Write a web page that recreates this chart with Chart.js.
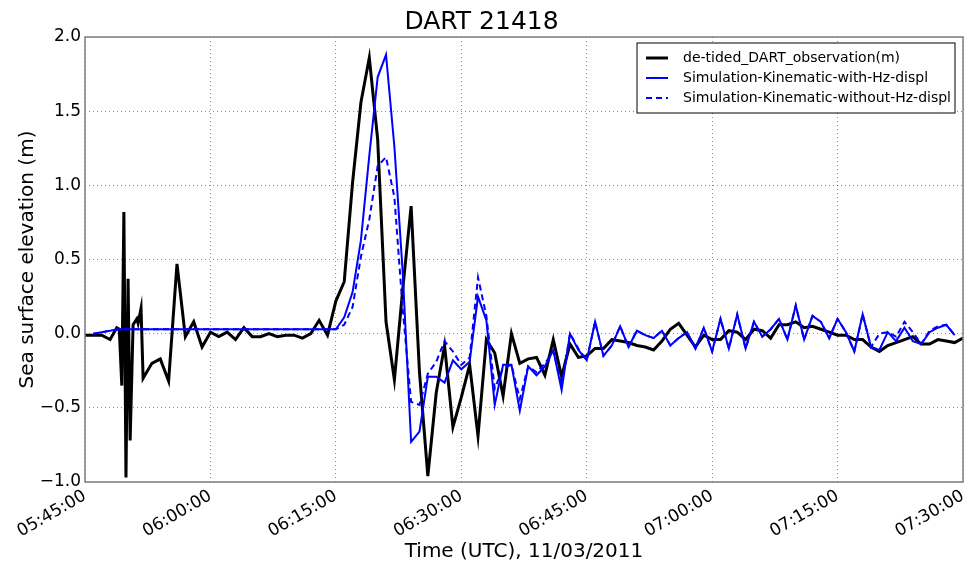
<!DOCTYPE html>
<html>
<head>
<meta charset="utf-8">
<script src="https://cdn.jsdelivr.net/npm/chart.js@4"></script>
<style>
  html, body { margin: 0; padding: 0; background: #fff; }
  #wrap { width: 965px; height: 565px; }
</style>
</head>
<body>
<div id="wrap"><canvas id="dart-chart" width="965" height="565"></canvas></div>
<script>
// x values are minutes after 05:45:00
const xTickLabels = ['05:45:00', '06:00:00', '06:15:00', '06:30:00', '06:45:00', '07:00:00', '07:15:00', '07:30:00'];
const yTicks = [-1.0, -0.5, 0.0, 0.5, 1.0, 1.5, 2.0];

// de-tided observation (15 s samples during the early burst, 1 min afterwards)
const obsTime = [0, 1, 2, 3, 3.8, 4.1, 4.4, 4.65, 4.9, 5.15, 5.4, 5.75, 6.2, 6.35, 6.7, 6.95,
  8, 9, 10, 11, 12, 13, 14, 15, 16, 17, 18, 19, 20, 21, 22, 23, 24, 25, 26, 27, 28, 29,
  30, 31, 32, 33, 34, 35, 36, 37, 38, 39, 40, 41, 42, 43, 44, 45, 46, 47, 48, 49,
  50, 51, 52, 53, 54, 55, 56, 57, 58, 59, 60, 61, 62, 63, 64, 65, 66, 67, 68, 69,
  70, 71, 72, 73, 74, 75, 76, 77, 78, 79, 80, 81, 82, 83, 84, 85, 86, 87, 88, 89,
  90, 91, 92, 93, 94, 95, 96, 97, 98, 99, 100, 101, 102, 103, 104, 105];
const obsValue = [-0.01, -0.01, -0.01, -0.04, 0.04, 0.03, -0.35, 0.82, -0.97, 0.37, -0.72, 0.06, 0.10, 0.07, 0.17, -0.30,
  -0.20, -0.17, -0.32, 0.47, -0.02, 0.08, -0.09, 0.01, -0.02, 0.01, -0.04, 0.04, -0.02, -0.02, 0.00, -0.02, -0.01, -0.01, -0.03, 0.00, 0.09, -0.01,
  0.22, 0.35, 1.02, 1.56, 1.86, 1.31, 0.08, -0.31, 0.30, 0.86, -0.26, -0.96, -0.40, -0.08, -0.63, -0.43, -0.21, -0.69, -0.04, -0.13,
  -0.42, 0.00, -0.20, -0.17, -0.16, -0.28, -0.04, -0.29, -0.07, -0.16, -0.15, -0.10, -0.10, -0.04, -0.05, -0.06, -0.08, -0.09, -0.11, -0.05,
  0.03, 0.07, -0.01, -0.09, -0.01, -0.04, -0.04, 0.02, 0.01, -0.04, 0.03, 0.02, -0.03, 0.06, 0.06, 0.08, 0.04, 0.05, 0.03, 0.01,
  -0.01, -0.01, -0.04, -0.04, -0.09, -0.12, -0.08, -0.06, -0.04, -0.02, -0.07, -0.07, -0.04, -0.05, -0.06, -0.03];

// simulations, one value per minute starting at 05:46:00
const simStart = 1;
const simWithHz = [
  0.00, 0.01, 0.02, 0.03, 0.03, 0.03, 0.03, 0.03, 0.03, 0.03,
  0.03, 0.03, 0.03, 0.03, 0.03, 0.03, 0.03, 0.03, 0.03, 0.03,
  0.03, 0.03, 0.03, 0.03, 0.03, 0.03, 0.03, 0.03, 0.03, 0.03,
  0.11, 0.28, 0.63, 1.20, 1.73, 1.88, 1.26, 0.41, -0.73, -0.66,
  -0.29, -0.29, -0.33, -0.18, -0.24, -0.19, 0.25, 0.09, -0.48, -0.21,
  -0.21, -0.52, -0.22, -0.28, -0.22, -0.11, -0.38, 0.00, -0.11, -0.18,
  0.08, -0.15, -0.08, 0.05, -0.09, 0.02, -0.01, -0.03, 0.02, -0.08,
  -0.03, 0.01, -0.10, 0.04, -0.12, 0.10, -0.10, 0.13, -0.10, 0.08,
  -0.02, 0.03, 0.10, -0.04, 0.19, -0.04, 0.12, 0.08, -0.03, 0.10,
  0.01, -0.12, 0.13, -0.09, -0.11, 0.01, -0.05, 0.04, -0.05, -0.07,
  0.01, 0.04, 0.06, -0.01];
const simWithoutHz = [
  0.00, 0.01, 0.02, 0.03, 0.03, 0.03, 0.03, 0.03, 0.03, 0.03,
  0.03, 0.03, 0.03, 0.03, 0.03, 0.03, 0.03, 0.03, 0.03, 0.03,
  0.03, 0.03, 0.03, 0.03, 0.03, 0.03, 0.03, 0.03, 0.03, 0.03,
  0.06, 0.18, 0.52, 0.77, 1.13, 1.19, 0.92, 0.16, -0.46, -0.48,
  -0.27, -0.19, -0.05, -0.12, -0.21, -0.16, 0.38, 0.12, -0.37, -0.23,
  -0.21, -0.44, -0.22, -0.26, -0.20, -0.12, -0.34, 0.00, -0.10, -0.18,
  0.08, -0.15, -0.08, 0.05, -0.09, 0.02, -0.01, -0.03, 0.02, -0.08,
  -0.03, 0.01, -0.10, 0.04, -0.12, 0.10, -0.10, 0.13, -0.10, 0.08,
  -0.02, 0.03, 0.10, -0.04, 0.19, -0.04, 0.12, 0.08, -0.03, 0.10,
  0.01, -0.12, 0.13, -0.09, 0.00, 0.01, -0.02, 0.08, 0.01, -0.07,
  0.02, 0.05, 0.06, -0.01];

const FONT = "'DejaVu Sans', sans-serif";

const obsPoints = obsTime.map((t, i) => ({ x: t, y: obsValue[i] }));
const withHzPoints = simWithHz.map((v, i) => ({ x: simStart + i, y: v }));
const withoutHzPoints = simWithoutHz.map((v, i) => ({ x: simStart + i, y: v }));

// matplotlib-like frame and legend box
const framePlugin = {
    id: 'frame',
    afterDraw(chart) {
        const ctx = chart.ctx;
        const a = chart.chartArea;
        ctx.save();
        ctx.strokeStyle = '#7f7f7f';
        ctx.lineWidth = 1.5;
        ctx.strokeRect(a.left, a.top, a.right - a.left, a.bottom - a.top);

        // legend
        ctx.font = '14px ' + FONT;
        const sets = chart.data.datasets;
        let maxW = 0;
        sets.forEach(ds => { maxW = Math.max(maxW, ctx.measureText(ds.label).width); });
        const boxRight = a.right - 8;
        const boxTop = a.top + 6;
        const boxW = 50 + maxW;
        const boxH = 70;
        const boxLeft = boxRight - boxW;
        ctx.fillStyle = '#fff';
        ctx.fillRect(boxLeft, boxTop, boxW, boxH);
        ctx.strokeStyle = '#000';
        ctx.lineWidth = 1;
        ctx.strokeRect(boxLeft, boxTop, boxW, boxH);
        sets.forEach((ds, i) => {
            const y = boxTop + 15 + i * 20;
            ctx.beginPath();
            ctx.strokeStyle = ds.borderColor;
            ctx.lineWidth = ds.borderWidth;
            ctx.setLineDash(ds.borderDash || []);
            ctx.moveTo(boxLeft + 9, y);
            ctx.lineTo(boxLeft + 31, y);
            ctx.stroke();
            ctx.setLineDash([]);
            ctx.fillStyle = '#000';
            ctx.textBaseline = 'middle';
            ctx.textAlign = 'left';
            ctx.fillText(ds.label, boxLeft + 46, y);
        });
        ctx.restore();
    }
};

const ctx = document.getElementById('dart-chart').getContext('2d');
new Chart(ctx, {
    type: 'line',
    data: {
        datasets: [{
            label: 'de-tided_DART_observation(m)',
            data: obsPoints,
            borderColor: '#000000',
            borderWidth: 3,
            order: 3
        }, {
            label: 'Simulation-Kinematic-with-Hz-displ',
            data: withHzPoints,
            borderColor: '#0000ff',
            borderWidth: 2,
            order: 2
        }, {
            label: 'Simulation-Kinematic-without-Hz-displ',
            data: withoutHzPoints,
            borderColor: '#0000ff',
            borderWidth: 2,
            borderDash: [6, 4],
            order: 1
        }]
    },
    options: {
        responsive: false,
        animation: false,
        layout: { padding: { left: 0, right: 2, top: 0, bottom: 0 } },
        elements: {
            point: { radius: 0 },
            line: { tension: 0, fill: false }
        },
        plugins: {
            legend: { display: false },
            tooltip: { enabled: false },
            title: {
                display: true,
                text: 'DART 21418',
                color: '#000',
                font: { family: FONT, size: 25, weight: 'normal' },
                padding: { top: 7, bottom: 0 }
            }
        },
        scales: {
            x: {
                type: 'linear',
                min: 0,
                max: 105,
                afterFit: scale => {
                    scale.height = 83;
                    scale.paddingLeft = 0;
                    scale.paddingRight = 0;
                },
                afterBuildTicks: scale => {
                    scale.ticks = xTickLabels.map((_, i) => ({ value: i * 15 }));
                },
                ticks: {
                    color: '#000',
                    font: { family: FONT, size: 17 },
                    maxRotation: 30,
                    minRotation: 30,
                    padding: 4,
                    callback: (v, i) => xTickLabels[i]
                },
                grid: {
                    color: 'rgba(0,0,0,0.45)',
                    lineWidth: 1,
                    drawTicks: false
                },
                border: { display: false, dash: [1, 3] },
                title: {
                    display: true,
                    text: 'Time (UTC), 11/03/2011',
                    color: '#000',
                    font: { family: FONT, size: 20 },
                    padding: { top: 0, bottom: 1 }
                }
            },
            y: {
                min: -1,
                max: 2,
                afterFit: scale => { scale.width = 85; },
                afterBuildTicks: scale => {
                    scale.ticks = yTicks.map(v => ({ value: v }));
                },
                ticks: {
                    color: '#000',
                    font: { family: FONT, size: 17 },
                    padding: 4,
                    callback: v => (v < 0 ? '\u2212' : '') + Math.abs(v).toFixed(1)
                },
                grid: {
                    color: 'rgba(0,0,0,0.45)',
                    lineWidth: 1,
                    drawTicks: false
                },
                border: { display: false, dash: [1, 3] },
                title: {
                    display: true,
                    text: 'Sea surface elevation (m)',
                    color: '#000',
                    font: { family: FONT, size: 20 },
                    padding: { top: 16, bottom: 0 }
                }
            }
        }
    },
    plugins: [framePlugin]
});
</script>
</body>
</html>
